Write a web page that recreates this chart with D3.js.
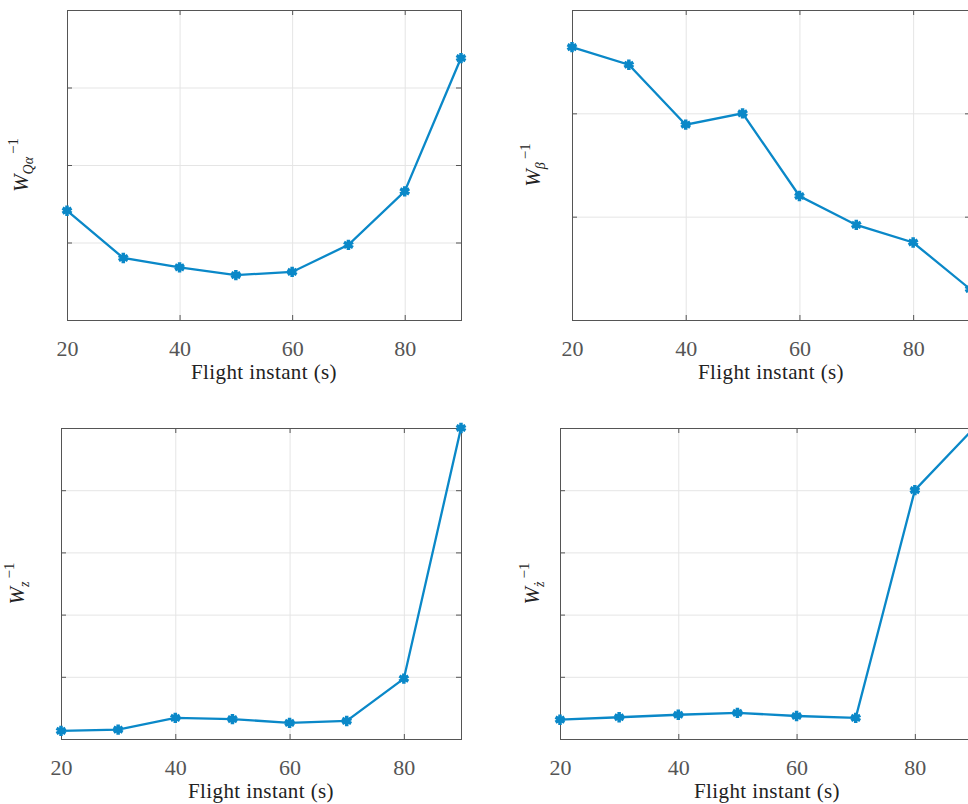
<!DOCTYPE html>
<html>
<head>
<meta charset="utf-8">
<script src="https://cdn.jsdelivr.net/npm/d3@7"></script>
<style>
  body { margin: 0; background: #fff; }
  svg { display: block; }
  .grid line { stroke: #e5e5e5; stroke-width: 1; }
  .grid path { display: none; }
  .tk line { stroke: #555; }
  .tk path { display: none; }
  .tk text { font-family: "Liberation Serif", "DejaVu Serif", serif; font-size: 22px; fill: #555; }
</style>
</head>
<body>
<svg width="968" height="804"></svg>
<script>
// flight instants (s)
var instants = [20, 30, 40, 50, 60, 70, 80, 90];
var xTicks = [20, 40, 60, 80];

// inverse weights (no scale shown)
var wQa   = [1.41, 0.80, 0.68, 0.58, 0.62, 0.97, 1.66, 3.38];
var wBeta = [2.64, 2.47, 1.89, 2.00, 1.20, 0.92, 0.75, 0.30];
var wZ    = [0.13, 0.15, 0.34, 0.32, 0.26, 0.29, 0.97, 5.00];
var wZdot = [0.31, 0.35, 0.39, 0.42, 0.37, 0.34, 4.00, 5.00];

var blue = "#0a88c8";
var svg = d3.select("svg");

// panel boxes (px), y domain max and y label pieces
var panels = [
  {vals: wQa,   l: 67,  r: 461, t: 10,  b: 320, ymax: 4, lx: 28,  sub: "Qα"},
  {vals: wBeta, l: 572, r: 970, t: 10,  b: 320, ymax: 3, lx: 540, sub: "β"},
  {vals: wZ,    l: 61,  r: 461, t: 428, b: 739, ymax: 5, lx: 24,  sub: "z"},
  {vals: wZdot, l: 560, r: 974, t: 428, b: 739, ymax: 5, lx: 539, sub: "ż"}
];

panels.forEach(function(p) {
  var x = d3.scaleLinear().domain([20, 90]).range([p.l, p.r]);
  var y = d3.scaleLinear().domain([0, p.ymax]).range([p.b, p.t]);
  var h = p.b - p.t, w = p.r - p.l;
  var yTicks = d3.range(1, p.ymax);
  var g = svg.append("g");

  // grid
  g.append("g").attr("class", "grid")
    .attr("transform", "translate(0," + p.b + ")")
    .call(d3.axisBottom(x).tickValues(xTicks).tickSize(-h).tickFormat(""));
  g.append("g").attr("class", "grid")
    .attr("transform", "translate(" + p.l + ",0)")
    .call(d3.axisLeft(y).tickValues(yTicks).tickSize(-w).tickFormat(""));

  // inner ticks + labels
  g.append("g").attr("class", "tk")
    .attr("transform", "translate(0," + p.b + ")")
    .call(d3.axisBottom(x).tickValues(xTicks).tickSize(-5).tickPadding(20));
  g.append("g").attr("class", "tk")
    .attr("transform", "translate(0," + p.t + ")")
    .call(d3.axisTop(x).tickValues(xTicks).tickSize(-5).tickFormat(""));
  g.append("g").attr("class", "tk")
    .attr("transform", "translate(" + p.l + ",0)")
    .call(d3.axisLeft(y).tickValues(yTicks).tickSize(-5).tickFormat(""));
  g.append("g").attr("class", "tk")
    .attr("transform", "translate(" + p.r + ",0)")
    .call(d3.axisRight(y).tickValues(yTicks).tickSize(-5).tickFormat(""));

  // box
  g.append("rect")
    .attr("x", p.l + 0.5).attr("y", p.t + 0.5)
    .attr("width", w).attr("height", h)
    .attr("fill", "none").attr("stroke", "#555").attr("stroke-width", 1);

  // series
  var line = d3.line().x(function(d, i) { return x(instants[i]); }).y(function(d) { return y(d); });
  g.append("path").datum(p.vals)
    .attr("d", line).attr("fill", "none")
    .attr("stroke", blue).attr("stroke-width", 2.3);
  g.selectAll(".m").data(p.vals).enter().append("path")
    .attr("transform", function(d, i) { return "translate(" + x(instants[i]) + "," + y(d) + ")"; })
    .attr("d", d3.symbol(d3.symbolAsterisk, 75)())
    .attr("fill", "none").attr("stroke", blue).attr("stroke-width", 3.5);

  // x title
  g.append("text")
    .attr("x", x(55)).attr("y", p.b + 59)
    .attr("text-anchor", "middle")
    .style("font-family", "'Liberation Serif', 'DejaVu Serif', serif")
    .style("font-size", "21px").style("letter-spacing", "0.4px").style("fill", "#222")
    .text("Flight instant (s)");

  // y label: W_{sub}^{-1}
  var yl = g.append("text")
    .attr("transform", "translate(" + p.lx + "," + ((p.t + p.b) / 2) + ") rotate(-90)")
    .attr("text-anchor", "middle")
    .style("font-family", "'Liberation Serif', 'DejaVu Serif', serif")
    .style("font-size", "21px").style("fill", "#222");
  yl.append("tspan").style("font-style", "italic").text("W");
  yl.append("tspan").attr("dy", 5).style("font-style", "italic").style("font-size", "14px").text(p.sub);
  yl.append("tspan").attr("dy", -15).attr("dx", 3).style("font-size", "15px").text("−1");
});
</script>
</body>
</html>
